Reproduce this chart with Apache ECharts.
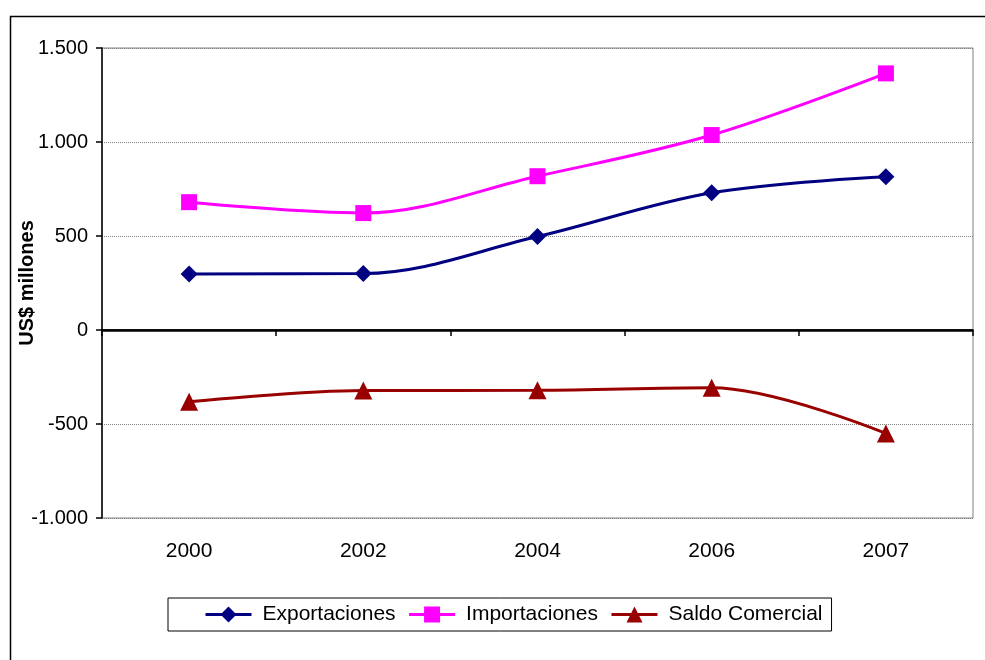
<!DOCTYPE html>
<html>
<head>
<meta charset="utf-8">
<script src="https://cdn.jsdelivr.net/npm/echarts@6/dist/echarts.min.js"></script>
<style>
  html, body { margin: 0; padding: 0; background: #fff; }
  #chart { width: 985px; height: 660px; }
</style>
</head>
<body>
<div id="chart"></div>
<script>
// Trade balance, US$ millions
const years = ['2000', '2002', '2004', '2006', '2007'];
const exportaciones = [298, 300, 497, 730, 815];
const importaciones = [680, 622, 818, 1037, 1365];
const saldoComercial = [-382, -322, -321, -307, -550];
const yTicks = { min: -1000, max: 1500, step: 500 };

const FONT = '"Liberation Sans", Arial, sans-serif';

// thousands separator as a dot
function fmt(v) {
  const s = Math.abs(v).toString().replace(/\B(?=(\d{3})+(?!\d))/g, '.');
  return (v < 0 ? '-' : '') + s;
}

const chart = echarts.init(document.getElementById('chart'), null, { renderer: 'canvas' });

function lineSeries(name, data, color, symbol, size) {
  return {
    name: name,
    type: 'line',
    data: data,
    smooth: 0.35,
    symbol: symbol,
    symbolSize: size,
    showAllSymbol: true,
    lineStyle: { color: color, width: 3 },
    itemStyle: { color: color, borderWidth: 0 },
    emphasis: { disabled: true },
    animation: false,
    z: 5
  };
}

const option = {
  backgroundColor: '#ffffff',
  animation: false,
  graphic: [{
    type: 'rect',
    left: 8, top: 14,
    shape: { width: 1000, height: 700 },
    style: { fill: 'none', stroke: '#000', lineWidth: 1.5 },
    silent: true
  }],
  grid: {
    left: 102, right: 12, top: 48, bottom: 142,
    show: true, borderColor: '#808080', borderWidth: 1,
    containLabel: false,
    outerBoundsMode: 'none'
  },
  legend: {
    left: 168, top: 598,
    padding: [6, 9, 6, 36],
    itemGap: 12,
    itemWidth: 46, itemHeight: 20,
    borderColor: '#000', borderWidth: 1,
    backgroundColor: '#fff',
    selectedMode: false,
    lineStyle: { width: 3 },
    textStyle: { fontFamily: FONT, fontSize: 21, color: '#000', padding: [0, 0, 0, 6] },
    data: ['Exportaciones', 'Importaciones', 'Saldo Comercial']
  },
  xAxis: {
    type: 'category',
    data: years,
    boundaryGap: true,
    axisLine: { lineStyle: { color: '#000', width: 1.5 } },
    axisTick: { show: true, length: 6, inside: false, lineStyle: { color: '#000', width: 1.5 } },
    axisLabel: { fontFamily: FONT, fontSize: 21, color: '#000', margin: 23 },
    splitLine: { show: false }
  },
  yAxis: {
    type: 'value',
    min: yTicks.min, max: yTicks.max, interval: yTicks.step,
    name: 'US$ millones',
    nameLocation: 'middle',
    nameGap: 65,
    nameRotate: 90,
    nameMoveOverlap: false,
    nameTextStyle: { fontFamily: FONT, fontSize: 20, fontWeight: 'bold', color: '#000' },
    axisLine: { show: true, lineStyle: { color: '#000', width: 1.5 } },
    axisTick: { show: true, length: 6, inside: false, lineStyle: { color: '#000', width: 1.5 } },
    axisLabel: { fontFamily: FONT, fontSize: 20, color: '#000', margin: 14, formatter: fmt },
    splitLine: { show: true, lineStyle: { color: '#808080', type: 'dotted', width: 1 } }
  },
  series: [
    Object.assign(lineSeries('Exportaciones', exportaciones, '#000080', 'diamond', 17), {
      markLine: {
        silent: true, symbol: 'none', animation: false,
        label: { show: false },
        lineStyle: { color: '#000', type: 'solid', width: 2.5 },
        data: [{ yAxis: 0 }],
        z: 3
      }
    }),
    lineSeries('Importaciones', importaciones, '#FF00FF', 'rect', 16),
    lineSeries('Saldo Comercial', saldoComercial, '#990000', 'triangle', 18)
  ]
};

chart.setOption(option);
</script>
</body>
</html>
